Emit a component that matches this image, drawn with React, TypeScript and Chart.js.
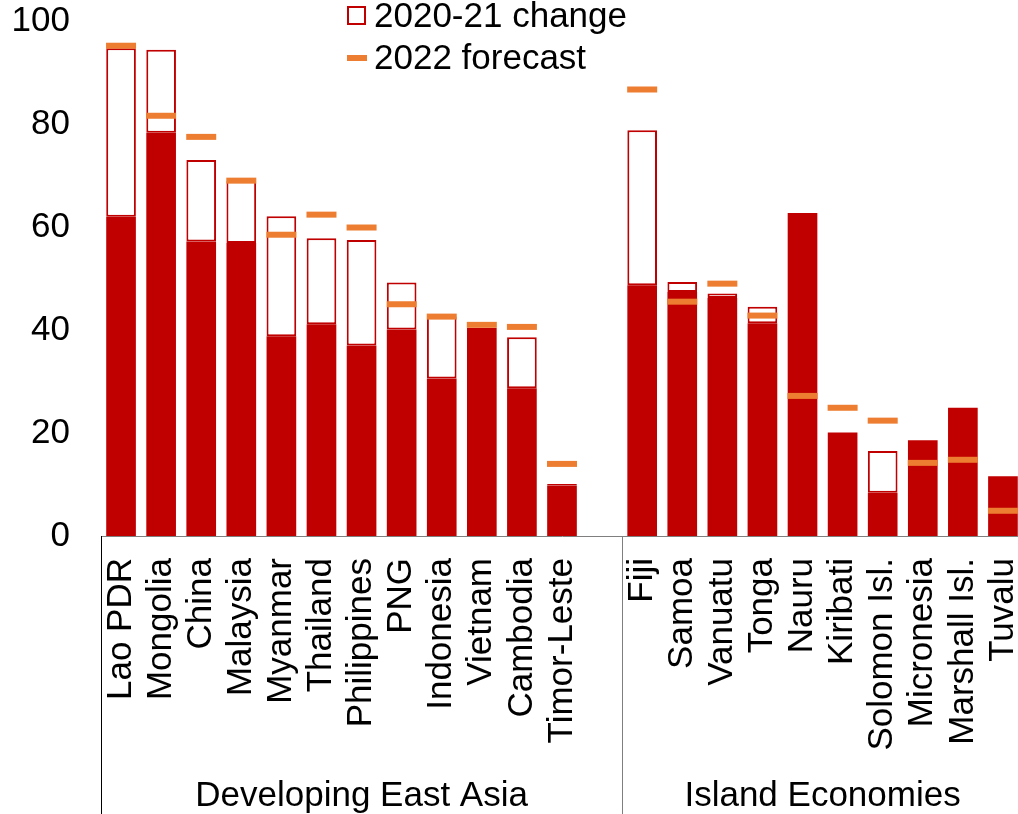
import React, { useEffect, useRef } from 'react';
import { Chart, registerables } from 'chart.js';

Chart.register(...registerables);

const categories = [
  'Lao PDR', 'Mongolia', 'China', 'Malaysia', 'Myanmar', 'Thailand', 'Philippines', 'PNG',
  'Indonesia', 'Vietnam', 'Cambodia', 'Timor-Leste', '',
  'Fiji', 'Samoa', 'Vanuatu', 'Tonga', 'Nauru', 'Kiribati', 'Solomon Isl.', 'Micronesia',
  'Marshall Isl.', 'Tuvalu',
];

const baseValues = [
  62.0, 78.3, 57.2, 56.9, 38.8, 41.1, 37.0, 40.1, 30.6, 40.4, 28.7, 9.8, null,
  48.7, 47.4, 46.2, 41.3, 62.7, 20.1, 8.4, 18.6, 24.9, 11.6,
];

const changeValues = [
  32.7, 16.1, 15.8, 12.1, 23.3, 16.7, 20.5, 9.1, 12.0, null, 9.9, 0.3, null,
  30.1, 1.9, 0.9, 3.2, null, null, 8.1, null, null, null,
];

const forecastValues = [
  95.2, 81.6, 77.5, 69.0, 58.5, 62.4, 59.9, 45.0, 42.6, 41.0, 40.6, 14.0, null,
  86.7, 45.5, 49.0, 42.8, 27.2, 24.9, 22.4, 14.2, 14.8, 4.9,
];

const groupLabels = ['Developing East Asia', 'Island Economies'];
const groupBounds = [[0, 13], [13, 23]];

const yMin = 0;
const yMax = 100;
const yStep = 20;

const FONT = "'Liberation Sans', Arial, sans-serif";
const RED = '#C00000';
const ORANGE = '#ED7D31';

const groupPlugin = {
  id: 'groupPlugin',
  afterDraw(chart: any) {
    const { ctx, chartArea } = chart;
    const n = categories.length;
    const step = (chartArea.right - chartArea.left) / n;
    const bx = (i: number) => chartArea.left + i * step;
    const bottom = chart.height;
    ctx.save();
    ctx.lineWidth = 1;
    ctx.strokeStyle = '#000000';
    ctx.beginPath();
    ctx.moveTo(Math.round(bx(0)) + 0.5, chartArea.bottom);
    ctx.lineTo(Math.round(bx(0)) + 0.5, bottom);
    ctx.stroke();
    ctx.strokeStyle = '#7f7f7f';
    ctx.beginPath();
    ctx.moveTo(Math.round(bx(groupBounds[1][0])) + 0.5, chartArea.bottom);
    ctx.lineTo(Math.round(bx(groupBounds[1][0])) + 0.5, bottom);
    ctx.stroke();
    ctx.fillStyle = '#000';
    ctx.font = `35px ${FONT}`;
    ctx.textAlign = 'center';
    ctx.textBaseline = 'alphabetic';
    groupLabels.forEach((label, gi) => {
      const [a, b] = groupBounds[gi];
      const cx = (bx(a) + Math.min(bx(b), chartArea.right)) / 2;
      ctx.fillText(label, cx, 806);
    });
    ctx.restore();
  },
};

export default function App() {
  const canvasRef = useRef<HTMLCanvasElement | null>(null);

  useEffect(() => {
    const canvas = canvasRef.current;
    if (!canvas) return;
    const chart = new Chart(canvas, {
      type: 'bar',
      data: {
        labels: categories,
        datasets: [
          {
            type: 'line',
            label: '2022 forecast',
            data: forecastValues,
            showLine: false,
            pointStyle: 'line',
            pointRadius: 15,
            pointHoverRadius: 15,
            pointBorderWidth: 6,
            pointHoverBorderWidth: 6,
            borderColor: ORANGE,
            backgroundColor: ORANGE,
            order: 0,
            stack: 'f',
          } as any,
          {
            label: '2020 level',
            data: baseValues,
            backgroundColor: RED,
            borderWidth: 0,
            stack: 's',
            order: 1,
          },
          {
            label: '2020-21 change',
            data: changeValues,
            backgroundColor: '#FFFFFF',
            borderColor: RED,
            borderWidth: 2,
            borderSkipped: false,
            stack: 's',
            order: 2,
          },
        ],
      },
      options: {
        responsive: false,
        animation: false,
        devicePixelRatio: 1,
        layout: { autoPadding: false, padding: { top: 21, left: 0, right: 0, bottom: 0 } },
        datasets: {
          bar: { barPercentage: 0.74, categoryPercentage: 1.0 },
        },
        plugins: {
          legend: { display: false },
          tooltip: { enabled: false },
        },
        scales: {
          x: {
            stacked: true,
            grid: { display: false, drawTicks: false },
            border: { display: true, color: '#7f7f7f', width: 1 },
            ticks: {
              autoSkip: false,
              minRotation: 90,
              maxRotation: 90,
              padding: 22,
              color: '#000',
              font: { family: FONT, size: 35 },
            },
            afterFit: (scale: any) => {
              scale.height = 278;
              scale.paddingLeft = 0;
              scale.paddingRight = 0;
              scale.paddingTop = 0;
              scale.paddingBottom = 0;
            },
          },
          y: {
            stacked: true,
            min: yMin,
            max: yMax,
            grid: { display: false, drawTicks: false },
            border: { display: false },
            ticks: {
              stepSize: yStep,
              padding: 31,
              color: '#000',
              font: { family: FONT, size: 35 },
            },
            afterFit: (scale: any) => {
              scale.width = 101;
              scale.paddingLeft = 0;
              scale.paddingRight = 0;
              scale.paddingTop = 0;
              scale.paddingBottom = 0;
            },
          },
        },
      },
      plugins: [groupPlugin],
    });
    return () => chart.destroy();
  }, []);

  const textStyle: React.CSSProperties = {
    position: 'absolute',
    left: 374,
    fontFamily: FONT,
    fontSize: 35,
    lineHeight: '35px',
    color: '#000',
    whiteSpace: 'nowrap',
  };

  return (
    <div style={{ position: 'fixed', left: 0, top: 0, width: 1018, height: 814, overflow: 'hidden', background: '#fff' }}>
      <canvas ref={canvasRef} width={1023} height={814} style={{ position: 'absolute', left: 0, top: 0 }} />
      <div style={{ position: 'absolute', left: 347, top: 6, width: 19, height: 19, border: `2px solid ${RED}`, boxSizing: 'border-box', background: '#fff' }} />
      <div style={{ ...textStyle, top: -3 }}>2020-21 change</div>
      <div style={{ position: 'absolute', left: 347, top: 55, width: 20, height: 6, background: ORANGE }} />
      <div style={{ ...textStyle, top: 39 }}>2022 forecast</div>
    </div>
  );
}
